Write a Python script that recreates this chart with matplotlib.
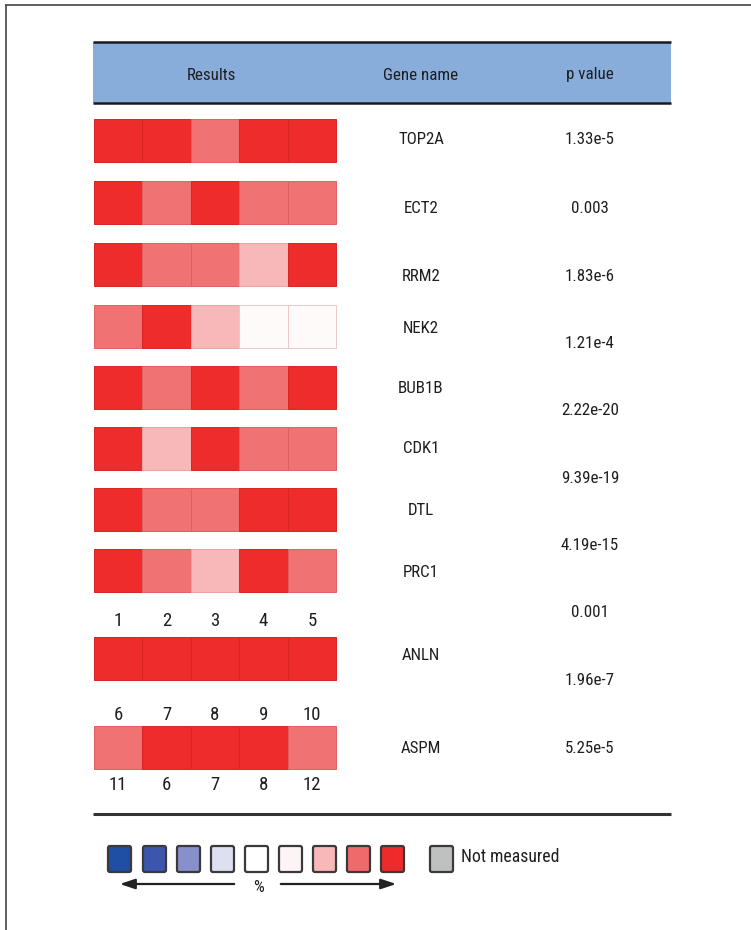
import matplotlib
matplotlib.use("Agg")
import matplotlib.pyplot as plt
from matplotlib.patches import Rectangle, FancyBboxPatch

# ---------------- data ----------------
genes = ["TOP2A", "ECT2", "RRM2", "NEK2", "BUB1B", "CDK1", "DTL", "PRC1", "ANLN", "ASPM"]
p_values = ["1.33e-5", "0.003", "1.83e-6", "1.21e-4", "2.22e-20", "9.39e-19",
            "4.19e-15", "0.001", "1.96e-7", "5.25e-5"]
# intensity level of each cell (4 = strongest red ... 1 = near white)
levels = [
    [4, 4, 3, 4, 4],
    [4, 3, 4, 3, 3],
    [4, 3, 3, 2, 4],
    [3, 4, 2, 1, 1],
    [4, 3, 4, 3, 4],
    [4, 2, 4, 3, 3],
    [4, 3, 3, 4, 4],
    [4, 3, 2, 4, 3],
    [4, 4, 4, 4, 4],
    [3, 4, 4, 4, 3],
]
col_labels_a = ["1", "2", "3", "4", "5"]
col_labels_b = ["6", "7", "8", "9", "10"]
col_labels_c = ["11", "6", "7", "8", "12"]
headers = ["Results", "Gene name", "p value"]
legend_colors = ["#1f4ea5", "#3c56ad", "#8890cc", "#dde0f1", "#ffffff",
                 "#fdf4f5", "#f8b7b9", "#ef6a6b", "#ee2a2a"]
not_measured_color = "#bfc1c1"
not_measured_label = "Not measured"

level_colors = {4: "#ee2c2c", 3: "#f07273", 2: "#f7b8b9", 1: "#fefafa"}
edge_colors = {4: "#d82424", 3: "#e06062", 2: "#eaa4a6", 1: "#ecc8c8"}

# ---------------- layout ----------------
W, H = 751, 930
fig = plt.figure(figsize=(W / 100, H / 100), dpi=100)
ax = fig.add_axes([0, 0, 1, 1])
ax.set_xlim(0, W)
ax.set_ylim(H, 0)
ax.axis("off")

FONT = ["Liberation Sans Narrow", "Roboto Condensed", "Open Sans Condensed",
        "DejaVu Sans"]
TXT = "#1e1e1e"
TK = dict(color=TXT, family=FONT, fontstretch="condensed")
FS = 12.2

# frame lines
ax.plot([5, W], [5, 5], color="#444444", lw=1.2, solid_capstyle="butt")
ax.plot([6, 6], [5, H], color="#444444", lw=1.2, solid_capstyle="butt")

# header band
x0, x1 = 93, 671
ax.add_patch(Rectangle((x0, 42), x1 - x0, 61, facecolor="#88addb", edgecolor="none"))
ax.plot([x0, x1], [42, 42], color="#1a1a1a", lw=1.8, solid_capstyle="butt")
ax.plot([x0, x1], [103, 103], color="#1a1a1a", lw=1.8, solid_capstyle="butt")
header_x = [211, 421, 590]
for hx, h in zip(header_x, headers):
    ax.text(hx, 75, h, ha="center", va="center", fontsize=FS, **TK)

# heatmap rows
cell_x0, cell_w, cell_h = 94, 48.4, 43
row_tops = [119, 181, 243, 305, 366, 427, 488, 549, 637, 726]
gene_y = [140, 208, 276, 328, 388, 448, 510, 572, 655, 748]
p_y = [140, 208, 276, 343, 410, 478, 545, 612, 680, 748]

for r, (top, row) in enumerate(zip(row_tops, levels)):
    for c, lv in enumerate(row):
        ax.add_patch(Rectangle((cell_x0 + c * cell_w, top), cell_w, cell_h,
                               facecolor=level_colors[lv], edgecolor=edge_colors[lv],
                               lw=0.7))
    ax.text(421, gene_y[r], genes[r], ha="center", va="center", fontsize=FS, **TK)
    ax.text(590, p_y[r], p_values[r], ha="center", va="center", fontsize=FS, **TK)

for labels, ly in [(col_labels_a, 621), (col_labels_b, 715), (col_labels_c, 785)]:
    for c, lab in enumerate(labels):
        ax.text(cell_x0 + (c + 0.5) * cell_w, ly, lab, ha="center", va="center",
                fontsize=13.5, **TK)

# bottom separator
ax.plot([x0, x1], [814, 814], color="#333333", lw=2.2, solid_capstyle="butt")

# legend
sq_x = [108, 143, 177, 211, 245, 279, 313, 347, 381]
sq_size = 23
for sx, col in zip(sq_x, legend_colors):
    ax.add_patch(FancyBboxPatch((sx, 846), sq_size, 26,
                                boxstyle="round,pad=0,rounding_size=2",
                                facecolor=col, edgecolor="#3a3a3a", lw=1.6))
ax.add_patch(FancyBboxPatch((430, 846), sq_size, 26,
                            boxstyle="round,pad=0,rounding_size=2",
                            facecolor=not_measured_color, edgecolor="#3a3a3a", lw=1.6))
ax.text(461, 857, not_measured_label, ha="left", va="center", fontsize=FS + 0.5, **TK)

# arrows
ax.annotate("", xy=(117, 884), xytext=(237, 884),
            arrowprops=dict(arrowstyle="-|>,head_length=0.9,head_width=0.3",
                            color="#222222", lw=1.6))
ax.annotate("", xy=(399, 884), xytext=(278, 884),
            arrowprops=dict(arrowstyle="-|>,head_length=0.9,head_width=0.3",
                            color="#222222", lw=1.6))
ax.text(258, 887, "%", ha="center", va="center", fontsize=FS, **TK)

fig.savefig("out.png", dpi=100, facecolor="white")
